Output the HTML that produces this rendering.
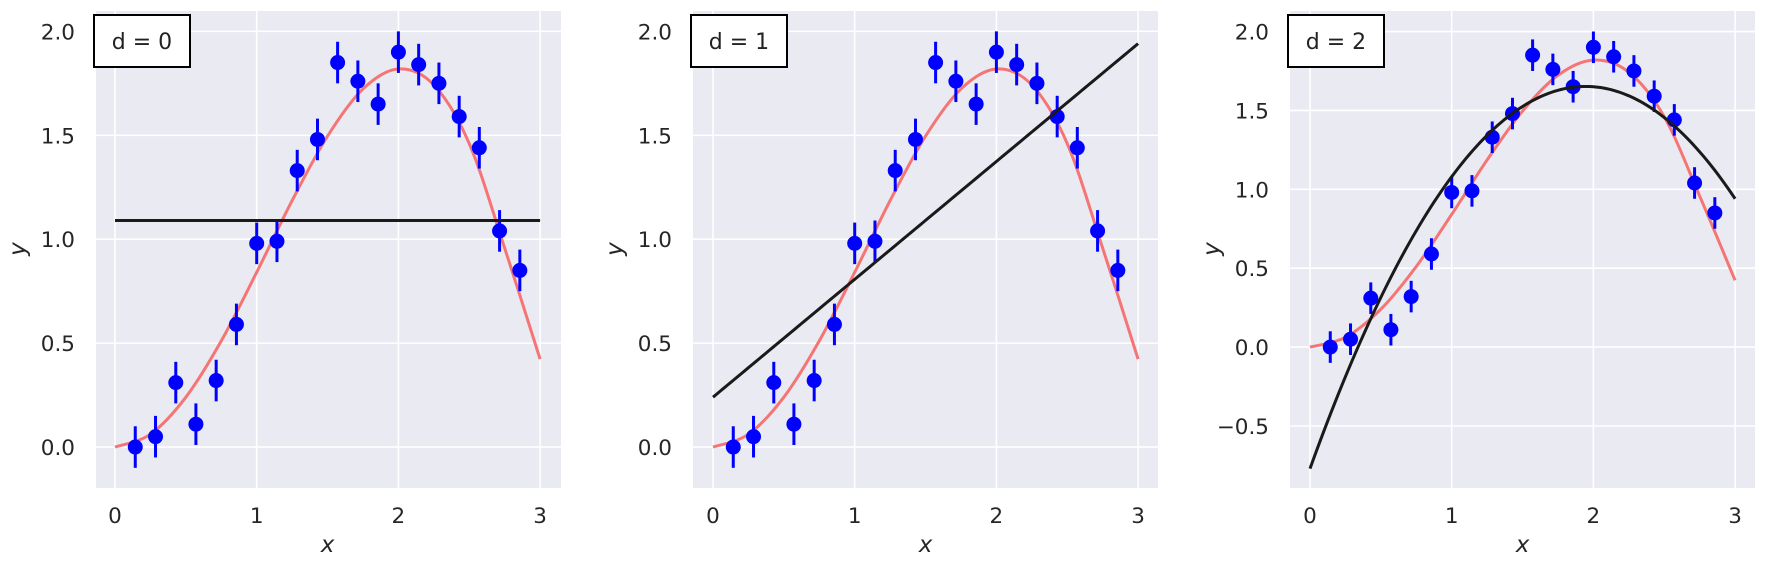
<!DOCTYPE html>
<html><head><meta charset="utf-8"><style>
body{margin:0;background:#fff;}
svg{display:block;font-family:"DejaVu Sans","Liberation Sans",sans-serif;}
</style></head><body>
<svg id="c" width="1766" height="566"></svg>
<script>
const xTicks=[0,1,2,3];
const yTicks12=[0,0.5,1.0,1.5,2.0];
const yTicks3=[-0.5,0,0.5,1.0,1.5,2.0];
const dataX=[0.143,0.286,0.429,0.571,0.714,0.857,1.0,1.143,1.286,1.429,1.571,1.714,1.857,2.0,2.143,2.286,2.429,2.571,2.714,2.857];
const dataY=[0.0,0.05,0.31,0.11,0.32,0.59,0.98,0.99,1.33,1.48,1.85,1.76,1.65,1.90,1.84,1.75,1.59,1.44,1.04,0.85];
const errY=[0.1,0.1,0.1,0.1,0.1,0.1,0.1,0.1,0.1,0.1,0.1,0.1,0.1,0.1,0.1,0.1,0.1,0.1,0.1,0.1];
const trueX=[0,0.25,0.5,0.75,1.0,1.25,1.5,1.75,2.0,2.25,2.5,2.75,3.0];
const trueY=[0,0.062,0.240,0.511,0.841,1.186,1.496,1.723,1.819,1.742,1.460,0.957,0.423];
const fit0=[1.09];
const fit1=[0.24,0.567];
const fit2=[-0.77,2.49,-0.64];
const labels=["d = 0","d = 1","d = 2"];
const NS="http://www.w3.org/2000/svg";
const svg=document.getElementById('c');
function mk(tag,attrs,parent){const e=document.createElementNS(NS,tag);for(const k in attrs)e.setAttribute(k,attrs[k]);(parent||svg).appendChild(e);return e;}
const panels=[
 {left:96,x0:115,ymin:-0.197,ymax:2.098,ticks:yTicks12,fit:fit0,fmt:v=>v.toFixed(1)},
 {left:693,x0:713,ymin:-0.197,ymax:2.098,ticks:yTicks12,fit:fit1,fmt:v=>v.toFixed(1)},
 {left:1290,x0:1310,ymin:-0.893,ymax:2.13,ticks:yTicks3,fit:fit2,fmt:v=>(v<0?"\u2212":"")+Math.abs(v).toFixed(1)}
];
const W=465,TOP=11,BOT=488,PXU=141.7;
panels.forEach((p,i)=>{
 const g=mk('g',{});
 
 
 const sx=v=>p.x0+v*PXU;
 const sy=v=>BOT-(v-p.ymin)/(p.ymax-p.ymin)*(BOT-TOP);
 const bg=mk('rect',{x:p.left,y:TOP,width:W,height:BOT-TOP,fill:'#eaeaf2'},g);
 
 
 xTicks.forEach(t=>{
  const l=mk('line',{x1:sx(t),x2:sx(t),y1:TOP,y2:BOT,stroke:'#fff','stroke-width':1.6},g);
  
  
  const tx=mk('text',{x:sx(t),y:523,'text-anchor':'middle','font-size':21.5,fill:'#262626'},g);
  tx.textContent=t;
  
  
 });
 p.ticks.forEach(t=>{
  const l=mk('line',{x1:p.left,x2:p.left+W,y1:sy(t),y2:sy(t),stroke:'#fff','stroke-width':1.6},g);
  
  
  const ty=mk('text',{x:p.left-21,y:sy(t)+8,'text-anchor':'end','font-size':21.5,fill:'#262626'},g);
  ty.textContent=p.fmt(t);
  
  
 });
 let pts=trueX.map((x,k)=>[sx(x),sy(trueY[k])]);
 let d='M'+pts[0][0]+','+pts[0][1];
 for(let k=0;k<pts.length-1;k++){
  const p0=pts[Math.max(k-1,0)],p1=pts[k],p2=pts[k+1],p3=pts[Math.min(k+2,pts.length-1)];
  d+=' C'+(p1[0]+(p2[0]-p0[0])/6)+','+(p1[1]+(p2[1]-p0[1])/6)+' '+(p2[0]-(p3[0]-p1[0])/6)+','+(p2[1]-(p3[1]-p1[1])/6)+' '+p2[0]+','+p2[1];
 }
 const tc=mk('path',{d:d,fill:'none',stroke:'#f57575','stroke-width':3},g);
 
 
 dataX.forEach((x,k)=>{
  const eb=mk('line',{x1:sx(x),x2:sx(x),y1:sy(dataY[k]-errY[k]),y2:sy(dataY[k]+errY[k]),stroke:'#0000ff','stroke-width':3},g);
  
  
  const c=mk('circle',{cx:sx(x),cy:sy(dataY[k]),r:7.5,fill:'#0000ff'},g);
  
  
 });
 let fd='';
 for(let k=0;k<=120;k++){const x=3*k/120;let y=0;p.fit.forEach((c,j)=>y+=c*Math.pow(x,j));fd+=(k?'L':'M')+sx(x).toFixed(2)+','+sy(y).toFixed(2);}
 const fl=mk('path',{d:fd,fill:'none',stroke:'#1a1a1a','stroke-width':3},g);
 
 
 const lb=mk('rect',{x:p.left-2,y:15,width:96,height:52,fill:'#fff',stroke:'#000','stroke-width':2},g);
 
 
 const lt=mk('text',{x:p.left+46,y:49,'text-anchor':'middle','font-size':22,fill:'#222'},g);
 lt.textContent=labels[i];
 
 
 const xl=mk('text',{x:sx(1.5),y:552,'text-anchor':'middle','font-size':23,'font-style':'italic',fill:'#262626'},g);
 xl.textContent='x';
 
 
 const yl=mk('text',{x:0,y:0,'text-anchor':'middle','font-size':23,'font-style':'italic',fill:'#262626',transform:'translate('+(p.left-71)+',249) rotate(-90)'},g);
 yl.textContent='y';
 
 
});
</script>
</body></html>
